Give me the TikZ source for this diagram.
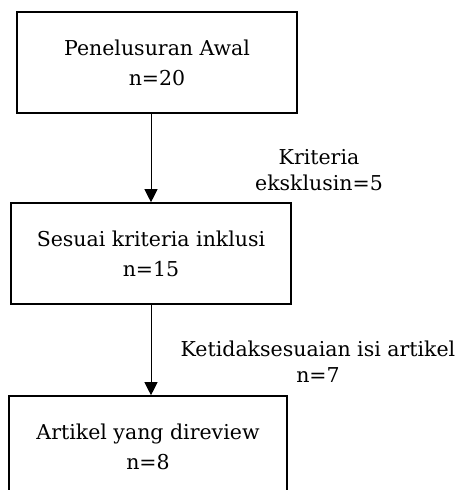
\documentclass[tikz,border=0pt]{standalone}
\usepackage{fontspec}
\setmainfont{DejaVu Serif}
\usetikzlibrary{arrows.meta}

\begin{document}
\begin{tikzpicture} [x=1pt,y=-1pt,>={Triangle[width=13pt,length=13pt]}]
  \tikzset{stage/.style={draw,line width=1.6pt,minimum width=280pt,minimum height=101pt,inner sep=0pt,align=center,font=\fontsize{20.5}{30}\selectfont},
           note/.style={align=center,font=\fontsize{20.5}{26}\selectfont}}
  \useasboundingbox[clip] (0,0) rectangle (459,490);

  \node[stage]                   (awal)   at (157,62.5) {Penelusuran Awal\\n=20};
  \node[stage]                   (inklusi) at (151,253.5) {Sesuai kriteria inklusi\\n=15};
  \node[stage,minimum width=278pt] (review) at (148,446.5) {Artikel yang direview\\n=8};

  \node[note] (eksklusi) at (319,170) {Kriteria\\eksklusin=5};
  \node[note] (isi)      at (318,362) {Ketidaksesuaian isi artikel\\n=7};

  \draw[->,line width=0.8pt] (awal.south -| inklusi.north) -- (inklusi.north);
  \draw[->,line width=0.8pt] (inklusi.south) -- (inklusi.south |- review.north);
\end{tikzpicture}
\end{document}
